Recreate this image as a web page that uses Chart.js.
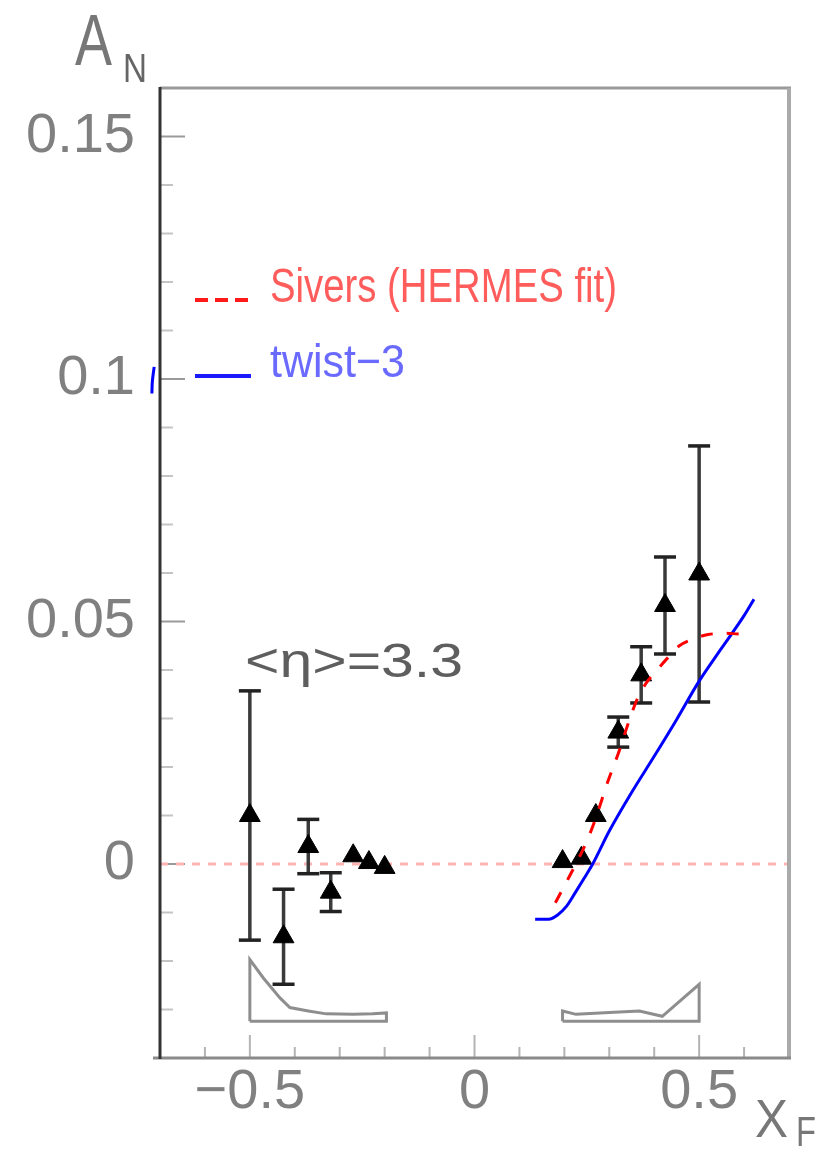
<!DOCTYPE html>
<html>
<head>
<meta charset="utf-8">
<script src="https://cdn.jsdelivr.net/npm/chart.js@4.4.1/dist/chart.umd.min.js"></script>
<style>
  html, body { margin: 0; padding: 0; background: #ffffff; }
  canvas { display: block; }
</style>
</head>
<body>
<canvas id="c" width="815" height="1149"></canvas>
<script>
// ---------------- data ----------------
// measured points, eta = 3.3 (negative xF)
const leftX   = [-0.5, -0.425, -0.37, -0.32, -0.27, -0.235, -0.2];
const leftY   = [0.010, -0.0150, 0.0036, -0.0058, 0.0017, 0.0003, -0.0007];
const leftErr = [0.0257, 0.0098, 0.0056, 0.0040, 0, 0, 0];
// measured points (positive xF)
const rightX   = [0.196, 0.238, 0.27, 0.32, 0.371, 0.424, 0.5];
const rightY   = [0.0005, 0.0012, 0.0100, 0.0272, 0.0390, 0.0533, 0.0598];
const rightErr = [0, 0, 0, 0.0031, 0.0058, 0.0100, 0.0264];
// Sivers (HERMES fit) curve
const siversX = [0.18, 0.20, 0.22, 0.25, 0.27, 0.296, 0.322, 0.344, 0.36, 0.38, 0.41, 0.43, 0.456, 0.49, 0.52, 0.56, 0.59, 0.612];
const siversY = [-0.0080, -0.0045, -0.0010, 0.0047, 0.0095, 0.0168, 0.0233, 0.0295, 0.0335, 0.0370, 0.0404, 0.0425, 0.0450, 0.0465, 0.0473, 0.0476, 0.0474, 0.0476];
// twist-3 curve
const twistX = [0.135, 0.165, 0.185, 0.205, 0.225, 0.245, 0.263, 0.30, 0.35, 0.40, 0.45, 0.50, 0.55, 0.60, 0.622];
const twistY = [-0.0114, -0.0114, -0.0105, -0.0087, -0.0058, -0.0028, 0.0000, 0.0068, 0.0148, 0.0222, 0.0298, 0.0377, 0.0445, 0.0512, 0.0546];
// stray piece of the twist-3 curve at the left edge
const twistStubX = [-0.713, -0.717, -0.718];
const twistStubY = [0.1025, 0.0995, 0.0970];
// acceptance shapes (grey outlines)
const accLeftX = [-0.5, -0.5, -0.47, -0.433, -0.411, -0.37, -0.33, -0.27, -0.227, -0.196, -0.196, -0.5];
const accLeftY = [-0.0324, -0.0197, -0.0235, -0.0276, -0.0296, -0.0303, -0.0309, -0.0310, -0.0309, -0.0307, -0.0324, -0.0324];
const accRightX = [0.196, 0.196, 0.226, 0.30, 0.367, 0.418, 0.5, 0.5, 0.196];
const accRightY = [-0.0324, -0.0303, -0.0310, -0.0306, -0.0303, -0.0314, -0.0248, -0.0324, -0.0324];
// zero reference line
const zeroX = [-0.7, 0.7];
const zeroY = [0, 0];
// axis ticks
const xTickValues = [-0.5, 0, 0.5];
const xTickLabels = ['\u22120.5', '0', '0.5'];
const yTickValues = [0, 0.05, 0.1, 0.15];
const yTickLabels = ['0', '0.05', '0.1', '0.15'];
// texts
const legendSivers = 'Sivers (HERMES fit)';
const legendTwist = 'twist\u22123';
const etaLabel = '<\u03b7>=3.3';

// ---------------- build datasets ----------------
const FONT = '"Liberation Sans", Arial, sans-serif';
const zip = (xs, ys) => xs.map((x, i) => ({x: x, y: ys[i]}));

const datasets = [];
datasets.push({
  label: 'Sivers (HERMES fit)', data: zip(siversX, siversY), showLine: true,
  borderColor: '#ff0000', borderWidth: 3, borderDash: [12, 14], pointRadius: 0,
  cubicInterpolationMode: 'monotone', order: 0
});
datasets.push({
  label: 'twist-3', data: zip(twistX, twistY), showLine: true,
  borderColor: '#0000ff', borderWidth: 3, pointRadius: 0,
  cubicInterpolationMode: 'monotone', order: 1
});
datasets.push({
  label: 'twist-3 stub', data: zip(twistStubX, twistStubY), showLine: true,
  borderColor: '#0000ff', borderWidth: 3, pointRadius: 0, tension: 0.4, clip: false, order: 1
});
datasets.push({
  label: 'data', data: zip(leftX.concat(rightX), leftY.concat(rightY)), showLine: false,
  pointStyle: 'triangle', pointRadius: 12, backgroundColor: '#000000',
  borderColor: '#000000', pointBorderWidth: 1, order: 2
});
const allX = leftX.concat(rightX), allY = leftY.concat(rightY), allE = leftErr.concat(rightErr);
allX.forEach((x, i) => {
  if (allE[i] <= 0) return;
  datasets.push({
    label: 'err' + i,
    data: [{x: x, y: allY[i] - allE[i]}, {x: x, y: allY[i] + allE[i]}],
    showLine: true, borderColor: '#3a3a3a', borderWidth: 3.5,
    pointStyle: 'line', pointRadius: 11, pointBorderWidth: 3.5,
    pointBorderColor: '#222222', order: 3
  });
});
datasets.push({
  label: 'acc left', data: zip(accLeftX, accLeftY), showLine: true,
  borderColor: '#8e8e8e', borderWidth: 3, pointRadius: 0, tension: 0, order: 4
});
datasets.push({
  label: 'acc right', data: zip(accRightX, accRightY), showLine: true,
  borderColor: '#8e8e8e', borderWidth: 3, pointRadius: 0, tension: 0, order: 4
});
datasets.push({
  label: 'zero', data: zip(zeroX, zeroY), showLine: true,
  borderColor: '#ffb4b4', borderWidth: 3, borderDash: [8, 8], pointRadius: 0, order: 5
});

// ---------------- decoration plugin ----------------
function fitText(ctx, text, x, baseline, size, width, color) {
  ctx.save();
  ctx.font = size + 'px ' + FONT;
  const w = ctx.measureText(text).width;
  ctx.translate(x, baseline);
  ctx.scale(width / w, 1);
  ctx.fillStyle = color;
  ctx.textAlign = 'left';
  ctx.textBaseline = 'alphabetic';
  ctx.fillText(text, 0, 0);
  ctx.restore();
}

const frame = {
  id: 'frame',
  beforeDatasetsDraw(chart) {
    const {ctx, chartArea: a, scales: {x, y}} = chart;
    ctx.save();
    // ticks on y axis (inside)
    for (let k = -4; k <= 16; k++) {
      const py = y.getPixelForValue(k / 100);
      const major = k % 5 === 0;
      ctx.strokeStyle = major ? '#9a9a9a' : '#c4c4c4';
      ctx.lineWidth = 2;
      ctx.beginPath(); ctx.moveTo(a.left, py); ctx.lineTo(a.left + (major ? 25 : 13), py); ctx.stroke();
    }
    // ticks on x axis (inside)
    for (let k = -6; k <= 6; k++) {
      const px = x.getPixelForValue(k / 10);
      const major = k % 5 === 0;
      ctx.strokeStyle = '#b4b4b4';
      ctx.lineWidth = 2;
      ctx.beginPath(); ctx.moveTo(px, a.bottom); ctx.lineTo(px, a.bottom - (major ? 23 : 11)); ctx.stroke();
    }
    ctx.restore();
  },
  afterDatasetsDraw(chart) {
    const {ctx, chartArea: a} = chart;
    ctx.save();
    // frame
    ctx.lineCap = 'butt';
    ctx.strokeStyle = '#999999'; ctx.lineWidth = 3;
    ctx.beginPath(); ctx.moveTo(a.left, a.top); ctx.lineTo(a.right + 2, a.top); ctx.stroke();
    ctx.strokeStyle = '#aaaaaa'; ctx.lineWidth = 4;
    ctx.beginPath(); ctx.moveTo(a.right, a.top); ctx.lineTo(a.right, a.bottom); ctx.stroke();
    ctx.strokeStyle = '#8a8a8a'; ctx.lineWidth = 3;
    ctx.beginPath(); ctx.moveTo(a.left - 7, a.bottom); ctx.lineTo(a.right + 2, a.bottom); ctx.stroke();
    ctx.strokeStyle = '#333333'; ctx.lineWidth = 3;
    ctx.beginPath(); ctx.moveTo(a.left, a.top - 1); ctx.lineTo(a.left, a.bottom + 1); ctx.stroke();

    // legend
    ctx.strokeStyle = '#ff1a1a'; ctx.lineWidth = 4; ctx.setLineDash([13, 7]);
    ctx.beginPath(); ctx.moveTo(195, 300); ctx.lineTo(250, 300); ctx.stroke();
    ctx.setLineDash([]);
    ctx.strokeStyle = '#1a1aff'; ctx.lineWidth = 4;
    ctx.beginPath(); ctx.moveTo(195, 376); ctx.lineTo(251, 376); ctx.stroke();
    fitText(ctx, legendSivers, 270, 302, 48, 347, '#ff5c5c');
    fitText(ctx, legendTwist, 270, 377, 47, 135, '#6a6aff');

    // eta label
    fitText(ctx, etaLabel, 245, 677, 49, 218, '#5e5e5e');

    // axis titles
    fitText(ctx, 'A', 75, 65, 72, 37, '#777777');
    fitText(ctx, 'N', 123, 82, 41, 24, '#666666');
    fitText(ctx, 'X', 755, 1137, 54, 33, '#777777');
    fitText(ctx, 'F', 796, 1146, 42, 20, '#777777');
    ctx.restore();
  }
};

new Chart(document.getElementById('c'), {
  type: 'scatter',
  data: {datasets: datasets},
  options: {
    responsive: false,
    animation: false,
    events: [],
    layout: {padding: {top: 88, right: 26, left: 0, bottom: 0}},
    plugins: {legend: {display: false}, tooltip: {enabled: false}},
    scales: {
      x: {
        type: 'linear', min: -0.7, max: 0.7,
        afterBuildTicks: s => { s.ticks = xTickValues.map(v => ({value: v})); },
        afterFit: s => { s.height = 91; },
        grid: {display: false, drawTicks: false},
        border: {display: false},
        ticks: {
          callback: v => { const i = xTickValues.indexOf(v); return i >= 0 ? xTickLabels[i] : ''; },
          font: {family: FONT, size: 56}, color: '#808080', padding: 1,
          maxRotation: 0, autoSkip: false
        }
      },
      y: {
        type: 'linear', min: -0.04, max: 0.16,
        afterBuildTicks: s => { s.ticks = yTickValues.map(v => ({value: v})); },
        afterFit: s => { s.width = 160; },
        grid: {display: false, drawTicks: false},
        border: {display: false},
        ticks: {
          callback: v => { const i = yTickValues.indexOf(v); return i >= 0 ? yTickLabels[i] : ''; },
          font: {family: FONT, size: 56}, color: '#808080', padding: 25,
          autoSkip: false
        }
      }
    }
  },
  plugins: [frame]
});
</script>
</body>
</html>
